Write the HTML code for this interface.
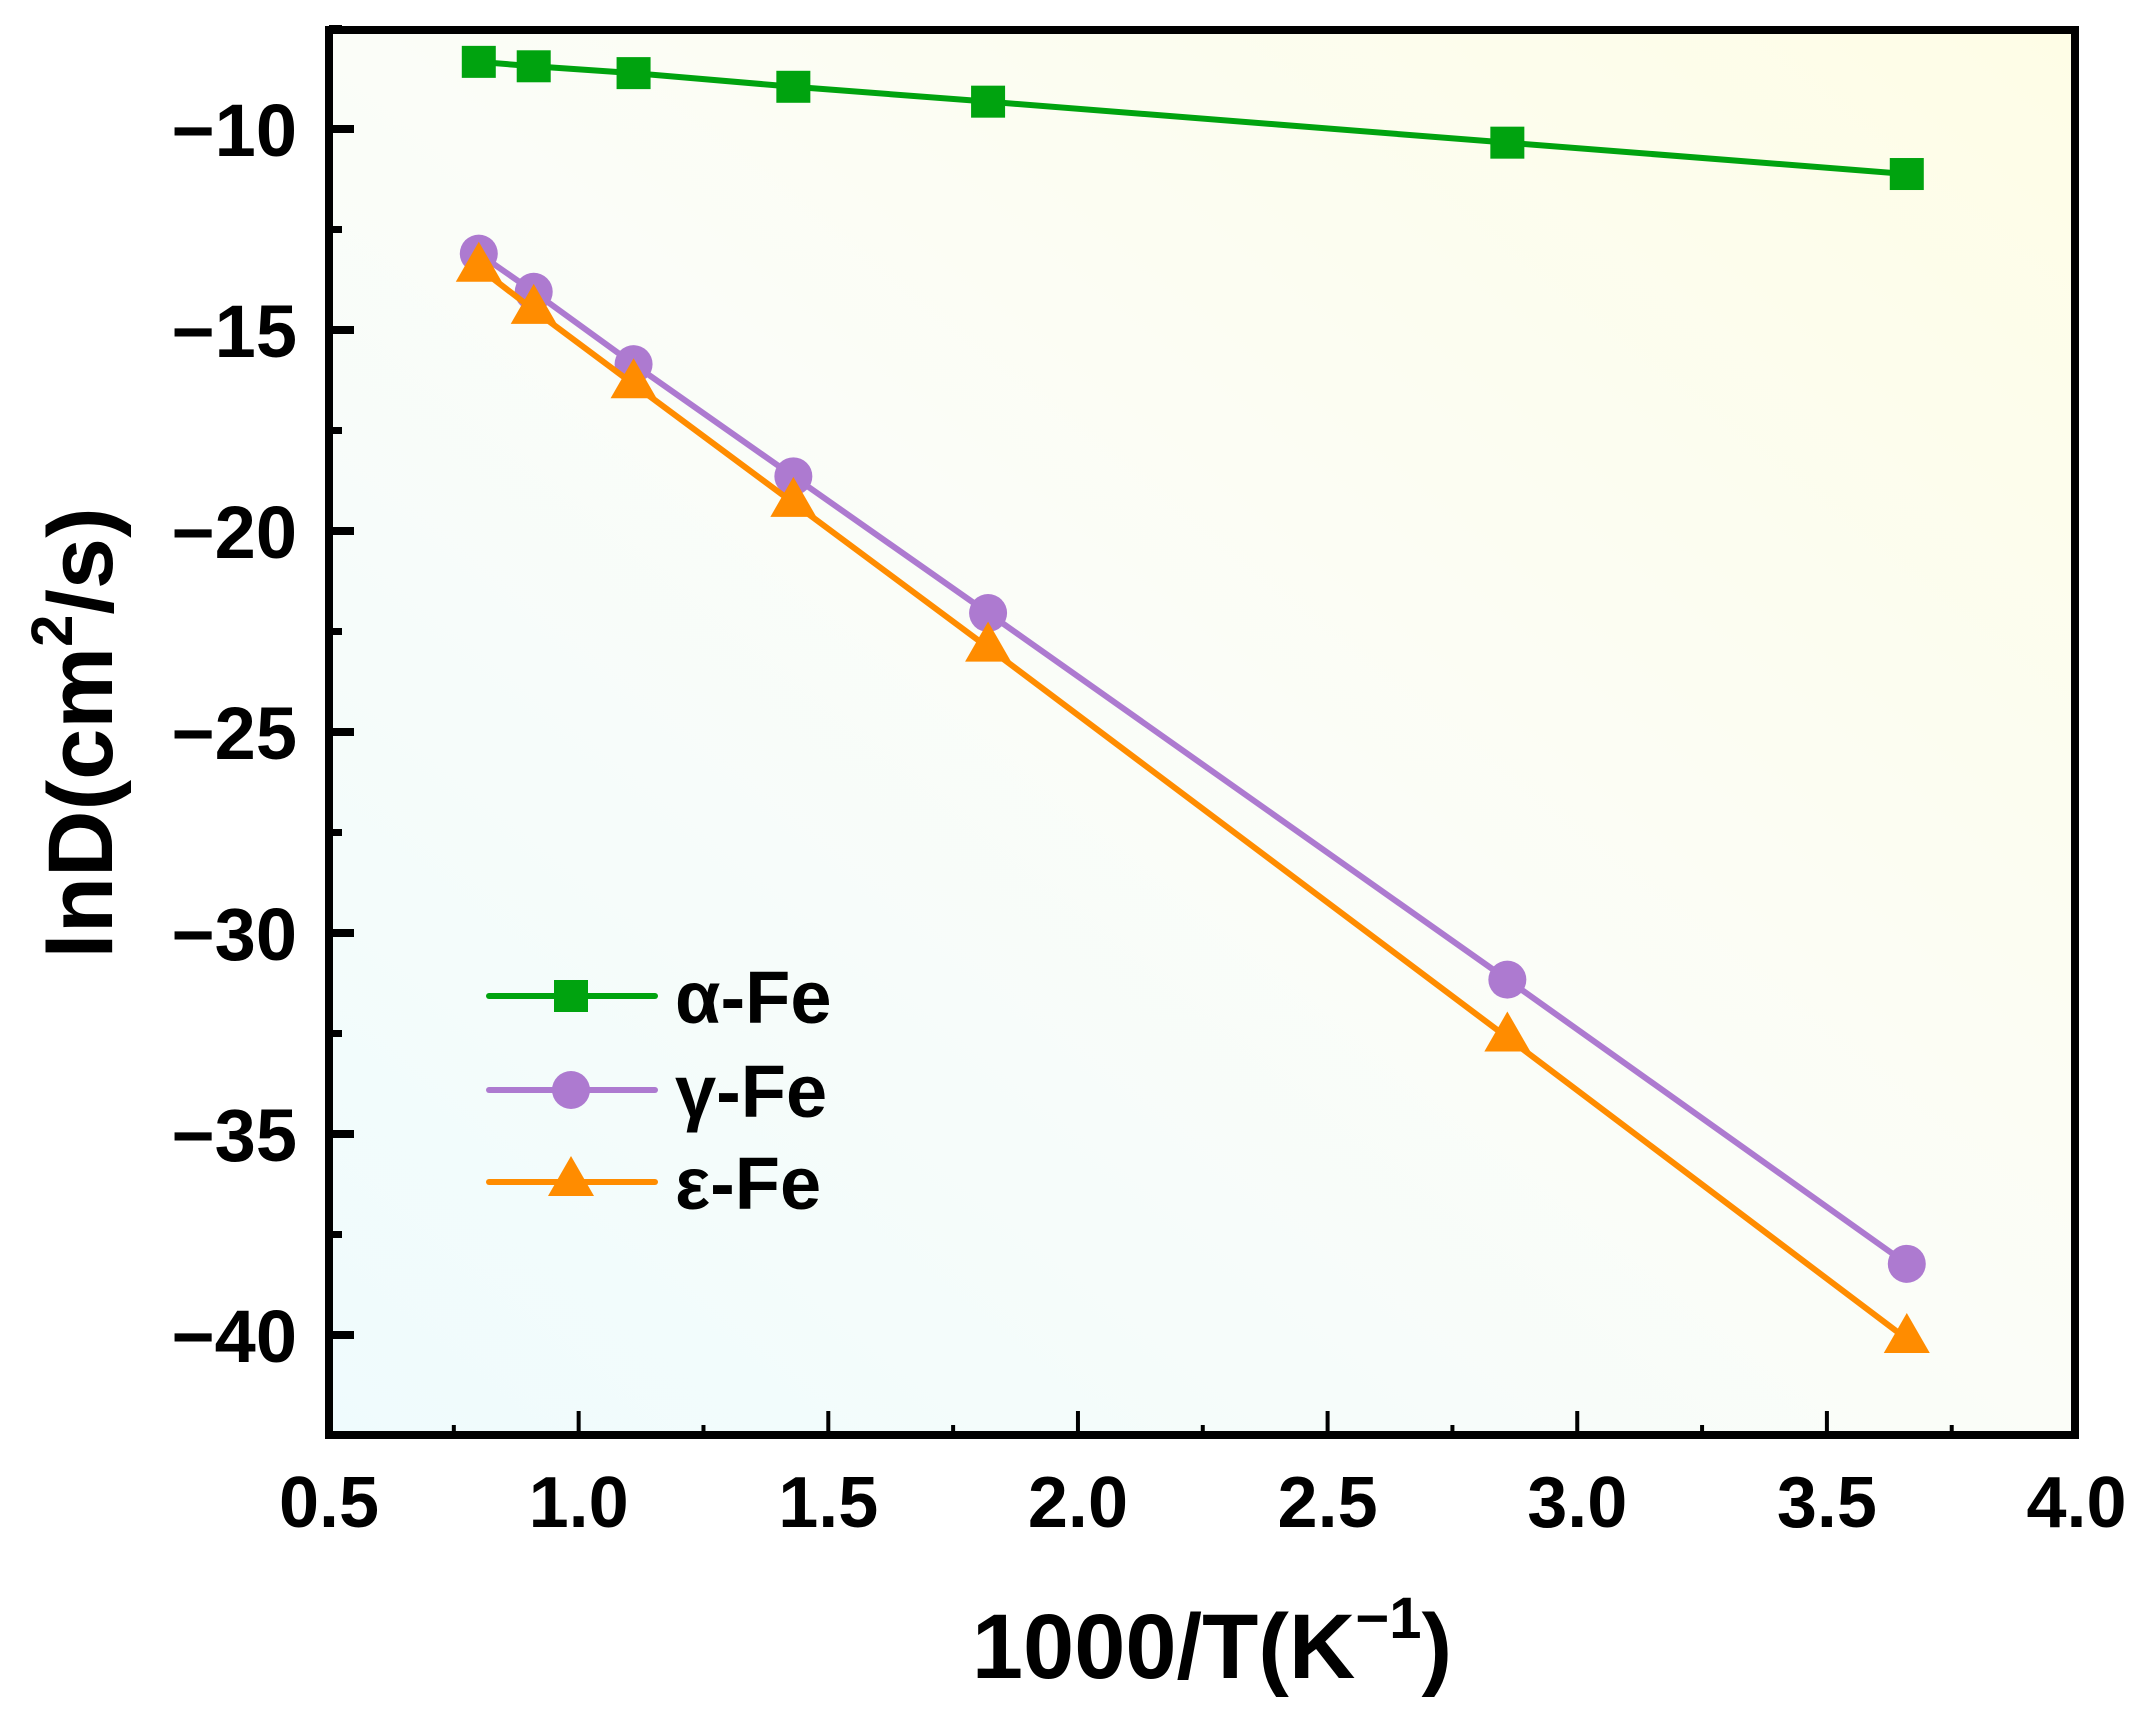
<!DOCTYPE html>
<html><head><meta charset="utf-8"><style>
html,body{margin:0;padding:0;background:#fff}
svg{display:block}
text{font-family:"Liberation Sans",Arial,sans-serif;font-weight:bold;fill:#000}
</style></head><body>
<svg id="chart" width="2141" height="1719" viewBox="0 0 2141 1719" xmlns="http://www.w3.org/2000/svg">
<defs>
<linearGradient id="bg" x1="0" y1="1" x2="1" y2="0">
<stop offset="0" stop-color="#effbfd"/>
<stop offset="0.5" stop-color="#fbfdf8"/>
<stop offset="1" stop-color="#fefde6"/>
</linearGradient>
</defs>
<rect x="329" y="30" width="1746" height="1405" fill="url(#bg)"/>
<g id="series"></g>
<rect x="329" y="30" width="1746" height="1405" fill="none" stroke="#000" stroke-width="8"/>
<g id="axes"></g>
<text x="1212" y="1678" font-size="92" text-anchor="middle">1000/T(K<tspan font-size="58" dy="-40">−1</tspan><tspan dy="40">)</tspan></text>
<text transform="translate(112,733) rotate(-90)" font-size="92" text-anchor="middle">lnD(cm<tspan font-size="58" dy="-40">2</tspan><tspan dy="40">/s)</tspan></text>
<g id="legend"></g>
</svg>
<script>
const xs = [0.8, 0.91, 1.11, 1.43, 1.82, 2.86, 3.66];
const alphaFe = [-8.33, -8.44, -8.61, -8.95, -9.32, -10.34, -11.12];
const gammaFe = [-13.1, -14.05, -15.85, -18.64, -22.04, -31.16, -38.23];
const epsFe = [-13.45, -14.5, -16.35, -19.3, -22.9, -32.6, -40.1];
const xTicks = [0.5, 1.0, 1.5, 2.0, 2.5, 3.0, 3.5, 4.0];
const xTickLabels = ["0.5","1.0","1.5","2.0","2.5","3.0","3.5","4.0"];
const yTicks = [-10, -15, -20, -25, -30, -35, -40];
const yTickLabels = ["−10","−15","−20","−25","−30","−35","−40"];
const seriesNames = ["α-Fe","γ-Fe","ε-Fe"];

const NS = "http://www.w3.org/2000/svg";
function X(v){ return 329 + (v - 0.5) * 499.3; }
function Y(v){ return 129 + (-10 - v) * 40.2; }
function mk(tag, attrs, parent){ const e=document.createElementNS(NS,tag); for(const k in attrs) e.setAttribute(k,attrs[k]); parent.appendChild(e); return e; }

const axes = document.getElementById('axes');
xTicks.forEach((t,i)=>{
  const l = mk('line',{x1:X(t),x2:X(t),y1:1435,y2:1411,stroke:'#000','stroke-width':4},axes);
  
  
  const tx = mk('text',{x:X(t),y:1527,'font-size':72,'text-anchor':'middle'},axes);
  tx.textContent = xTickLabels[i];
  
  
  if(i<xTicks.length-1){
    const m = mk('line',{x1:X(t+0.25),x2:X(t+0.25),y1:1435,y2:1425,stroke:'#000','stroke-width':4},axes);
    
    
  }
});
yTicks.forEach((t,i)=>{
  const l = mk('line',{x1:329,x2:354,y1:Y(t),y2:Y(t),stroke:'#000','stroke-width':8},axes);
  
  
  const tx = mk('text',{x:297,y:Y(t)+27,'font-size':74,'text-anchor':'end'},axes);
  tx.textContent = yTickLabels[i];
  
  
  const m = mk('line',{x1:329,x2:342,y1:Y(t+2.5),y2:Y(t+2.5),stroke:'#000','stroke-width':7},axes);
  
  
});
const m2 = mk('line',{x1:329,x2:342,y1:Y(-42.5),y2:Y(-42.5),stroke:'#000','stroke-width':7},axes);



const colors = ['#00a30f','#ad7ad0','#ff8c00'];
const data = [alphaFe, gammaFe, epsFe];
const sg = document.getElementById('series');
function marker(type, cx, cy, color, parent){
  let e;
  if(type===0) e = mk('rect',{x:cx-17,y:cy-16,width:34,height:32,fill:color},parent);
  else if(type===1) e = mk('circle',{cx:cx,cy:cy,r:19,fill:color},parent);
  else e = mk('polygon',{points:`${cx},${cy-26} ${cx+23},${cy+14} ${cx-23},${cy+14}`,fill:color},parent);
  return e;
}
data.forEach((ys,s)=>{
  const pts = xs.map((x,i)=>X(x)+','+Y(ys[i])).join(' ');
  const pl = mk('polyline',{points:pts,fill:'none',stroke:colors[s],'stroke-width':6},sg);
  
  
  xs.forEach((x,i)=>{
    const m = marker(s, X(x), Y(ys[i]), colors[s], sg);
    
    
  });
});

const lg = document.getElementById('legend');
const legY = [996, 1090, 1182];
seriesNames.forEach((n,s)=>{
  const l = mk('line',{x1:489,x2:655,y1:legY[s],y2:legY[s],stroke:colors[s],'stroke-width':6,'stroke-linecap':'round'},lg);
  
  
  const m = marker(s, 571, legY[s], colors[s], lg);
  
  
  const t = mk('text',{x:675,y:legY[s]+27,'font-size':74},lg);
  t.textContent = n;
  
  
});
</script>
</body></html>
